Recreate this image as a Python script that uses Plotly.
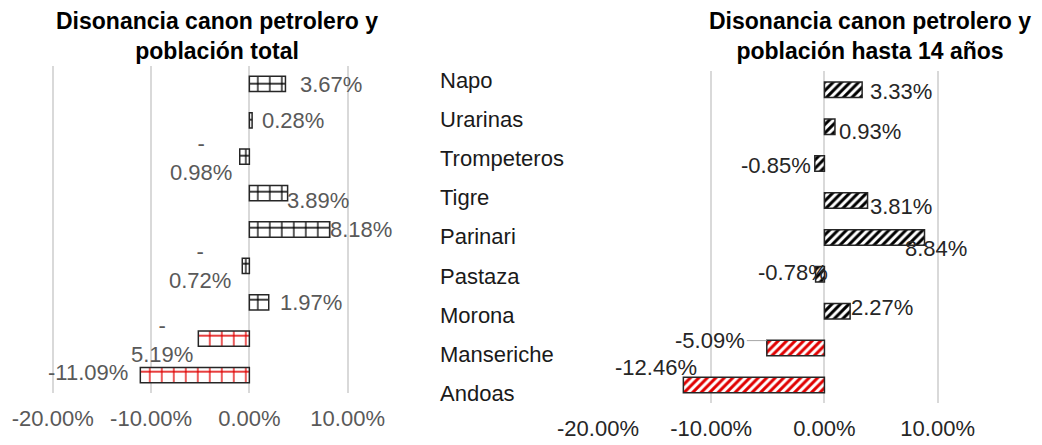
import plotly.graph_objects as go

# ---------------- data ----------------
categories = ["Napo", "Urarinas", "Trompeteros", "Tigre", "Parinari",
              "Pastaza", "Morona", "Manseriche", "Andoas"]
total_pct = [3.67, 0.28, -0.98, 3.89, 8.18, -0.72, 1.97, -5.19, -11.09]
child_pct = [3.33, 0.93, -0.85, 3.81, 8.84, -0.78, 2.27, -5.09, -12.46]
total_labels = ["3.67%", "0.28%", "-<br>0.98%", "3.89%", "8.18%",
                "-<br>0.72%", "1.97%", "-<br>5.19%", "-11.09%"]
child_labels = ["3.33%", "0.93%", "-0.85%", "3.81%", "8.84%",
                "-0.78%", "2.27%", "-5.09%", "-12.46%"]
tick_values = [-0.2, -0.1, 0.0, 0.1]
tick_labels = ["-20.00%", "-10.00%", "0.00%", "10.00%"]
highlight = ["Manseriche", "Andoas"]
left_title = "Disonancia canon petrolero y<br>población total"
right_title = "Disonancia canon petrolero y<br>población hasta 14 años"

# ---------------- styles ----------------
W, H = 1042, 445
OFF = 8  # page body margin compensation (px)
FONT = "Liberation Sans, Arial, sans-serif"
RED = "#e00000"
OUTLINE = "#262626"
GRID = "#d9d9d9"
CAT_RANGE = [len(categories) - 0.5, -0.5]  # reversed: first category on top


def px(xp):
    return (xp - OFF) / W


def py(yp):
    return 1 - (yp - OFF) / H


# label offsets in pixels (dx, dy) from bar end
left_shift = [(45.6, -1), (41, 0), (-38.7, -1), (30, -7), (31.3, 0),
              (-42.7, 0), (42.3, 0), (-36.8, -1), (-52.75, 2.5)]
right_shift = [(38.9, -2.2), (35.5, -5.3), (-38.4, -1.4), (33.5, -5.5), (11.6, -10.6),
               (-22.2, 1.3), (31.85, 4.2), (None, None), (-27.2, 17)]

fg_left = [RED if c in highlight else "black" for c in categories]
fg_right = [RED if c in highlight else "black" for c in categories]

fig = go.Figure()

fig.add_trace(go.Bar(
    x=[v / 100 for v in total_pct], y=categories, orientation="h",
    xaxis="x", yaxis="y", width=0.42,
    marker=dict(color="white",
                line=dict(color=OUTLINE, width=1.5),
                pattern=dict(shape="+", fgcolor=fg_left, bgcolor="white",
                             size=12, solidity=0.2, fillmode="replace")),
    hoverinfo="skip",
))

fig.add_trace(go.Bar(
    x=[v / 100 for v in child_pct], y=categories, orientation="h",
    xaxis="x2", yaxis="y2", width=0.42,
    marker=dict(color="white",
                line=dict(color=OUTLINE, width=1.5),
                pattern=dict(shape="/", fgcolor=fg_right, bgcolor="white",
                             size=6, solidity=0.5, fillmode="replace")),
    hoverinfo="skip",
))

# category labels (left aligned column between the charts)
fig.add_trace(go.Scatter(
    x=[0] * len(categories), y=categories, mode="text", text=categories,
    textposition="middle right", xaxis="x3", yaxis="y3",
    textfont=dict(family=FONT, size=22, color="#1a1a1a"),
    hoverinfo="skip", cliponaxis=False,
))

annotations = []
for cat, v, lab, (dx, dy) in zip(categories, total_pct, total_labels, left_shift):
    annotations.append(dict(
        x=v / 100, y=cat, xref="x", yref="y", text=lab, showarrow=False,
        xanchor="center", yanchor="middle", xshift=dx, yshift=dy,
        font=dict(family=FONT, size=22, color="#595959"),
    ))
for cat, v, lab, (dx, dy) in zip(categories, child_pct, child_labels, right_shift):
    if dx is None:
        annotations.append(dict(
            x=v / 100, y=cat, xref="x2", yref="y2", text=lab, showarrow=True,
            arrowhead=0, arrowwidth=1, arrowcolor="#a6a6a6", standoff=0,
            ax=-56.5, ay=0, yshift=7.5,
            font=dict(family=FONT, size=22, color="#262626"),
        ))
    else:
        annotations.append(dict(
            x=v / 100, y=cat, xref="x2", yref="y2", text=lab, showarrow=False,
            xanchor="center", yanchor="middle", xshift=dx, yshift=dy,
            font=dict(family=FONT, size=22, color="#262626"),
        ))

annotations.append(dict(
    x=px(216.5), y=py(35.5), xref="paper", yref="paper", text="<b>" + left_title + "</b>",
    showarrow=False, xanchor="center", yanchor="middle", align="center",
    font=dict(family=FONT, size=23, color="black"),
))
annotations.append(dict(
    x=px(870), y=py(35.5), xref="paper", yref="paper", text="<b>" + right_title + "</b>",
    showarrow=False, xanchor="center", yanchor="middle", align="center",
    font=dict(family=FONT, size=23, color="black"),
))

xcommon = dict(tickvals=tick_values, ticktext=tick_labels, showgrid=True,
               gridcolor=GRID, gridwidth=1.5, zeroline=False, showline=False,
               ticks="", ticklabelstandoff=10, fixedrange=True, automargin=False)
ycommon = dict(type="category", categoryorder="array", categoryarray=categories,
               range=CAT_RANGE, autorange=False, showticklabels=False,
               showgrid=False, zeroline=False, automargin=False, fixedrange=True)

fig.update_layout(
    width=W, height=H, autosize=False,
    margin=dict(l=0, r=0, t=0, b=0, pad=0, autoexpand=False),
    paper_bgcolor="white", plot_bgcolor="white",
    showlegend=False,
    font=dict(family=FONT),
    xaxis=dict(domain=[px(47.8), px(352.6)], range=[-0.205, 0.105], anchor="y",
               tickfont=dict(family=FONT, size=22, color="#595959"), **xcommon),
    yaxis=dict(domain=[py(393.3), py(65.7)], anchor="x", **ycommon),
    xaxis2=dict(domain=[px(598), px(943.3)], range=[-0.2, 0.105], anchor="y2",
                tickfont=dict(family=FONT, size=22, color="#262626"), **xcommon),
    yaxis2=dict(domain=[py(403.45), py(71.35)], anchor="x2", **ycommon),
    xaxis3=dict(domain=[px(440), px(590)], range=[0, 1], visible=False, anchor="y3",
                automargin=False, fixedrange=True),
    yaxis3=dict(domain=[py(415.0), py(62.9)], anchor="x3", visible=False, **ycommon),
    annotations=annotations,
)

fig.write_html("out.html")
